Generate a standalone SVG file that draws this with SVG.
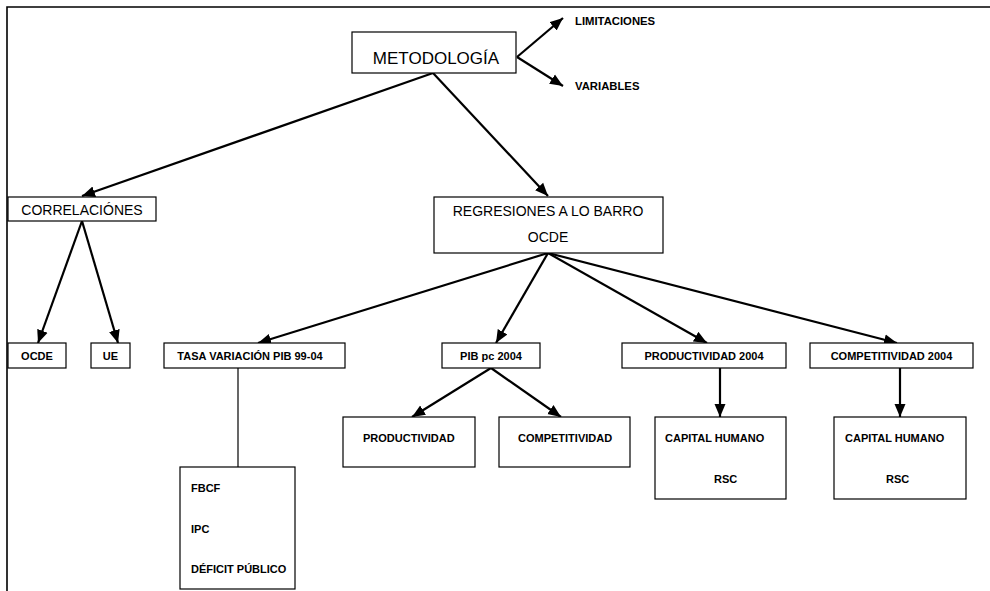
<svg xmlns="http://www.w3.org/2000/svg" width="990" height="591" viewBox="0 0 990 591">
<style>
.box{fill:#fff;stroke:#000;stroke-width:1.2}
.frame{fill:none;stroke:#000;stroke-width:1.6}
.arr{stroke:#000;stroke-width:2.2;fill:none;marker-end:url(#ah)}
.ln{stroke:#000;stroke-width:1.2;fill:none}
text{font-family:"Liberation Sans",Arial,sans-serif;fill:#000}
.big{font-size:17px}
.mid{font-size:14px}
.sm{font-size:11px;font-weight:bold}
.xs{font-size:11.3px;font-weight:bold}
</style>
<defs>
<marker id="ah" markerUnits="userSpaceOnUse" markerWidth="14" markerHeight="12" viewBox="0 0 14 12" refX="13" refY="6" orient="auto">
<path d="M0,0.5 L13,6 L0,11.5 z" fill="#000"/>
</marker>
</defs>
<g id="frame">
<path class="frame" d="M7,591 L7,7 L990,7"/>
</g>
<g id="connectors">
<line class="arr" x1="517" y1="57" x2="563" y2="18"/>
<line class="arr" x1="517" y1="57" x2="563" y2="86"/>
<line class="arr" x1="433" y1="73" x2="82" y2="196"/>
<line class="arr" x1="433" y1="73" x2="548" y2="196"/>
<line class="arr" x1="82" y1="221" x2="38" y2="343"/>
<line class="arr" x1="82" y1="221" x2="118" y2="343"/>
<line class="arr" x1="548" y1="253" x2="258" y2="343"/>
<line class="arr" x1="548" y1="253" x2="496" y2="343"/>
<line class="arr" x1="548" y1="253" x2="707" y2="343"/>
<line class="arr" x1="548" y1="253" x2="897" y2="343"/>
<line class="arr" x1="491" y1="368" x2="412" y2="417"/>
<line class="arr" x1="491" y1="368" x2="561" y2="417"/>
<line class="arr" x1="720" y1="368" x2="720" y2="417"/>
<line class="arr" x1="900" y1="368" x2="900" y2="417"/>
<line class="ln" x1="238" y1="368" x2="238" y2="467"/>
</g>
<g id="metodologia">
<rect class="box" x="352" y="32" width="164" height="41"/>
<text class="big" x="436" y="64" text-anchor="middle">METODOLOGÍA</text>
</g>
<g id="limitaciones">
<text class="xs" x="575" y="25">LIMITACIONES</text>
</g>
<g id="variables">
<text class="xs" x="575" y="90">VARIABLES</text>
</g>
<g id="correlaciones">
<rect class="box" x="8" y="197" width="148" height="24"/>
<text class="mid" x="82" y="215" text-anchor="middle">CORRELACIÓNES</text>
</g>
<g id="regresiones">
<rect class="box" x="434" y="197" width="229" height="56"/>
<text class="mid" x="548" y="216" text-anchor="middle">REGRESIONES A LO BARRO</text>
<text class="mid" x="548" y="242" text-anchor="middle">OCDE</text>
</g>
<g id="ocde">
<rect class="box" x="8" y="343" width="58" height="25"/>
<text class="sm" x="37" y="360" text-anchor="middle">OCDE</text>
</g>
<g id="ue">
<rect class="box" x="91" y="343" width="39" height="25"/>
<text class="sm" x="110.5" y="360" text-anchor="middle">UE</text>
</g>
<g id="tasa">
<rect class="box" x="164" y="343" width="181" height="25"/>
<text class="sm" x="250" y="360" text-anchor="middle">TASA VARIACIÓN PIB 99-04</text>
</g>
<g id="pibpc">
<rect class="box" x="442" y="343" width="98" height="25"/>
<text class="sm" x="491" y="360" text-anchor="middle">PIB pc 2004</text>
</g>
<g id="productividad2004">
<rect class="box" x="622" y="343" width="164" height="25"/>
<text class="sm" x="704" y="360" text-anchor="middle">PRODUCTIVIDAD 2004</text>
</g>
<g id="competitividad2004">
<rect class="box" x="810" y="343" width="163" height="25"/>
<text class="sm" x="891.5" y="360" text-anchor="middle">COMPETITIVIDAD 2004</text>
</g>
<g id="productividad">
<rect class="box" x="343" y="417" width="132" height="50"/>
<text class="sm" x="363" y="442">PRODUCTIVIDAD</text>
</g>
<g id="competitividad">
<rect class="box" x="499" y="417" width="131" height="50"/>
<text class="sm" x="518" y="442">COMPETITIVIDAD</text>
</g>
<g id="capital1">
<rect class="box" x="655" y="417" width="131" height="82"/>
<text class="sm" x="665" y="442">CAPITAL HUMANO</text>
<text class="sm" x="714" y="483">RSC</text>
</g>
<g id="capital2">
<rect class="box" x="834" y="417" width="132" height="82"/>
<text class="sm" x="845" y="442">CAPITAL HUMANO</text>
<text class="sm" x="886" y="483">RSC</text>
</g>
<g id="fbcf">
<rect class="box" x="180" y="467" width="115" height="122"/>
<text class="sm" x="191" y="492">FBCF</text>
<text class="sm" x="191" y="533">IPC</text>
<text class="sm" x="191" y="573">DÉFICIT PÚBLICO</text>
</g>
</svg>
